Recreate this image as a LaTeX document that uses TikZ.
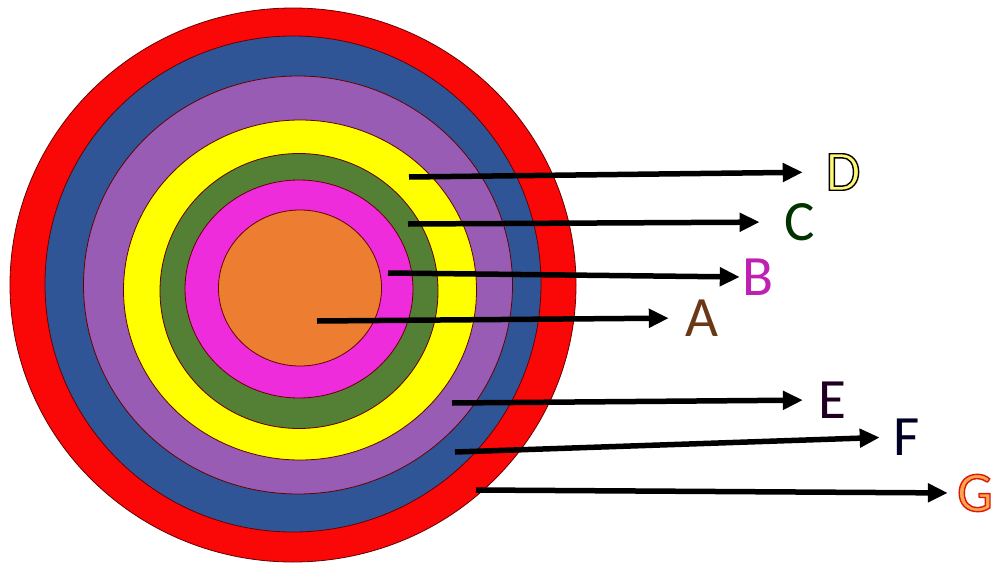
\documentclass[tikz,border=0pt]{standalone}
\usepackage{fontspec}
\setmainfont{Carlito}
\usetikzlibrary{arrows.meta,shapes.geometric}
\definecolor{ringred}{RGB}{250,8,8}
\definecolor{ringblue}{RGB}{47,85,151}
\definecolor{ringpurple}{RGB}{152,92,180}
\definecolor{ringyellow}{RGB}{255,255,0}
\definecolor{ringgreen}{RGB}{84,128,54}
\definecolor{ringmagenta}{RGB}{238,44,220}
\definecolor{ringorange}{RGB}{237,125,49}
% outlined letter: fill colour from \color, stroke given as rgb triple
\newcommand{\outlined}[2]{\special{pdf:literal direct 2 Tr 1.4 w #1 RG}#2\special{pdf:literal direct 0 Tr}}

\begin{document}
\begin{tikzpicture}[x=1pt, y=-1pt, >={Triangle[length=20pt,width=18pt]},
  ring/.style={ellipse, draw=black!60!red, line width=0.8pt, inner sep=0pt},
  pointer/.style={->, line width=5.5pt},
  letter/.style={inner sep=0pt, font=\fontsize{57}{60}\selectfont}]
  \useasboundingbox (0,0) rectangle (991,565);
  % rings, outside to inside
  \foreach \n/\x/\y/\w/\h/\c in {G/293/285/566/554/ringred, F/293/284/496/496/ringblue,
      E/298/285/429/418/ringpurple, D/300/290/353/340/ringyellow, C/299/291/278/275/ringgreen,
      B/299/289/228/218/ringmagenta, A/300/288/163/156/ringorange}
    \node[ring, fill=\c, minimum width=\w pt, minimum height=\h pt] (ring\n) at (\x,\y) {};
  % where the arrows start
  \foreach \n/\x/\y in {A/317/321, B/388/273, C/408/224, D/409/177, E/452/403, F/455/452, G/476/490}
    \coordinate (s\n) at (\x,\y);
  % labels
  \node[letter, text=black!55!ringorange] (A) at (702,318) {A};
  \node[letter, text=black!15!ringmagenta!85!violet] (B) at (758,277) {B};
  \node[letter, text=black!80!green] (C) at (800,222) {C};
  \node[letter, text=yellow!55!white] (D) at (843,172) {\outlined{0 0 0}{D}};
  \node[letter, text=black!75!violet] (E) at (832,400) {E};
  \node[letter, text=black!85!blue] (F) at (907,437) {F};
  \node[letter, text=orange!70!white] (G) at (975,493) {\outlined{0.85 0.1 0.05}{G}};
  % arrows
  \foreach \n/\g in {A/16.5, B/2.5, C/25, D/22.5, E/15, F/14, G/9}
    \draw[pointer, shorten >=\g pt] (s\n) -- (\n.west);
\end{tikzpicture}
\end{document}
